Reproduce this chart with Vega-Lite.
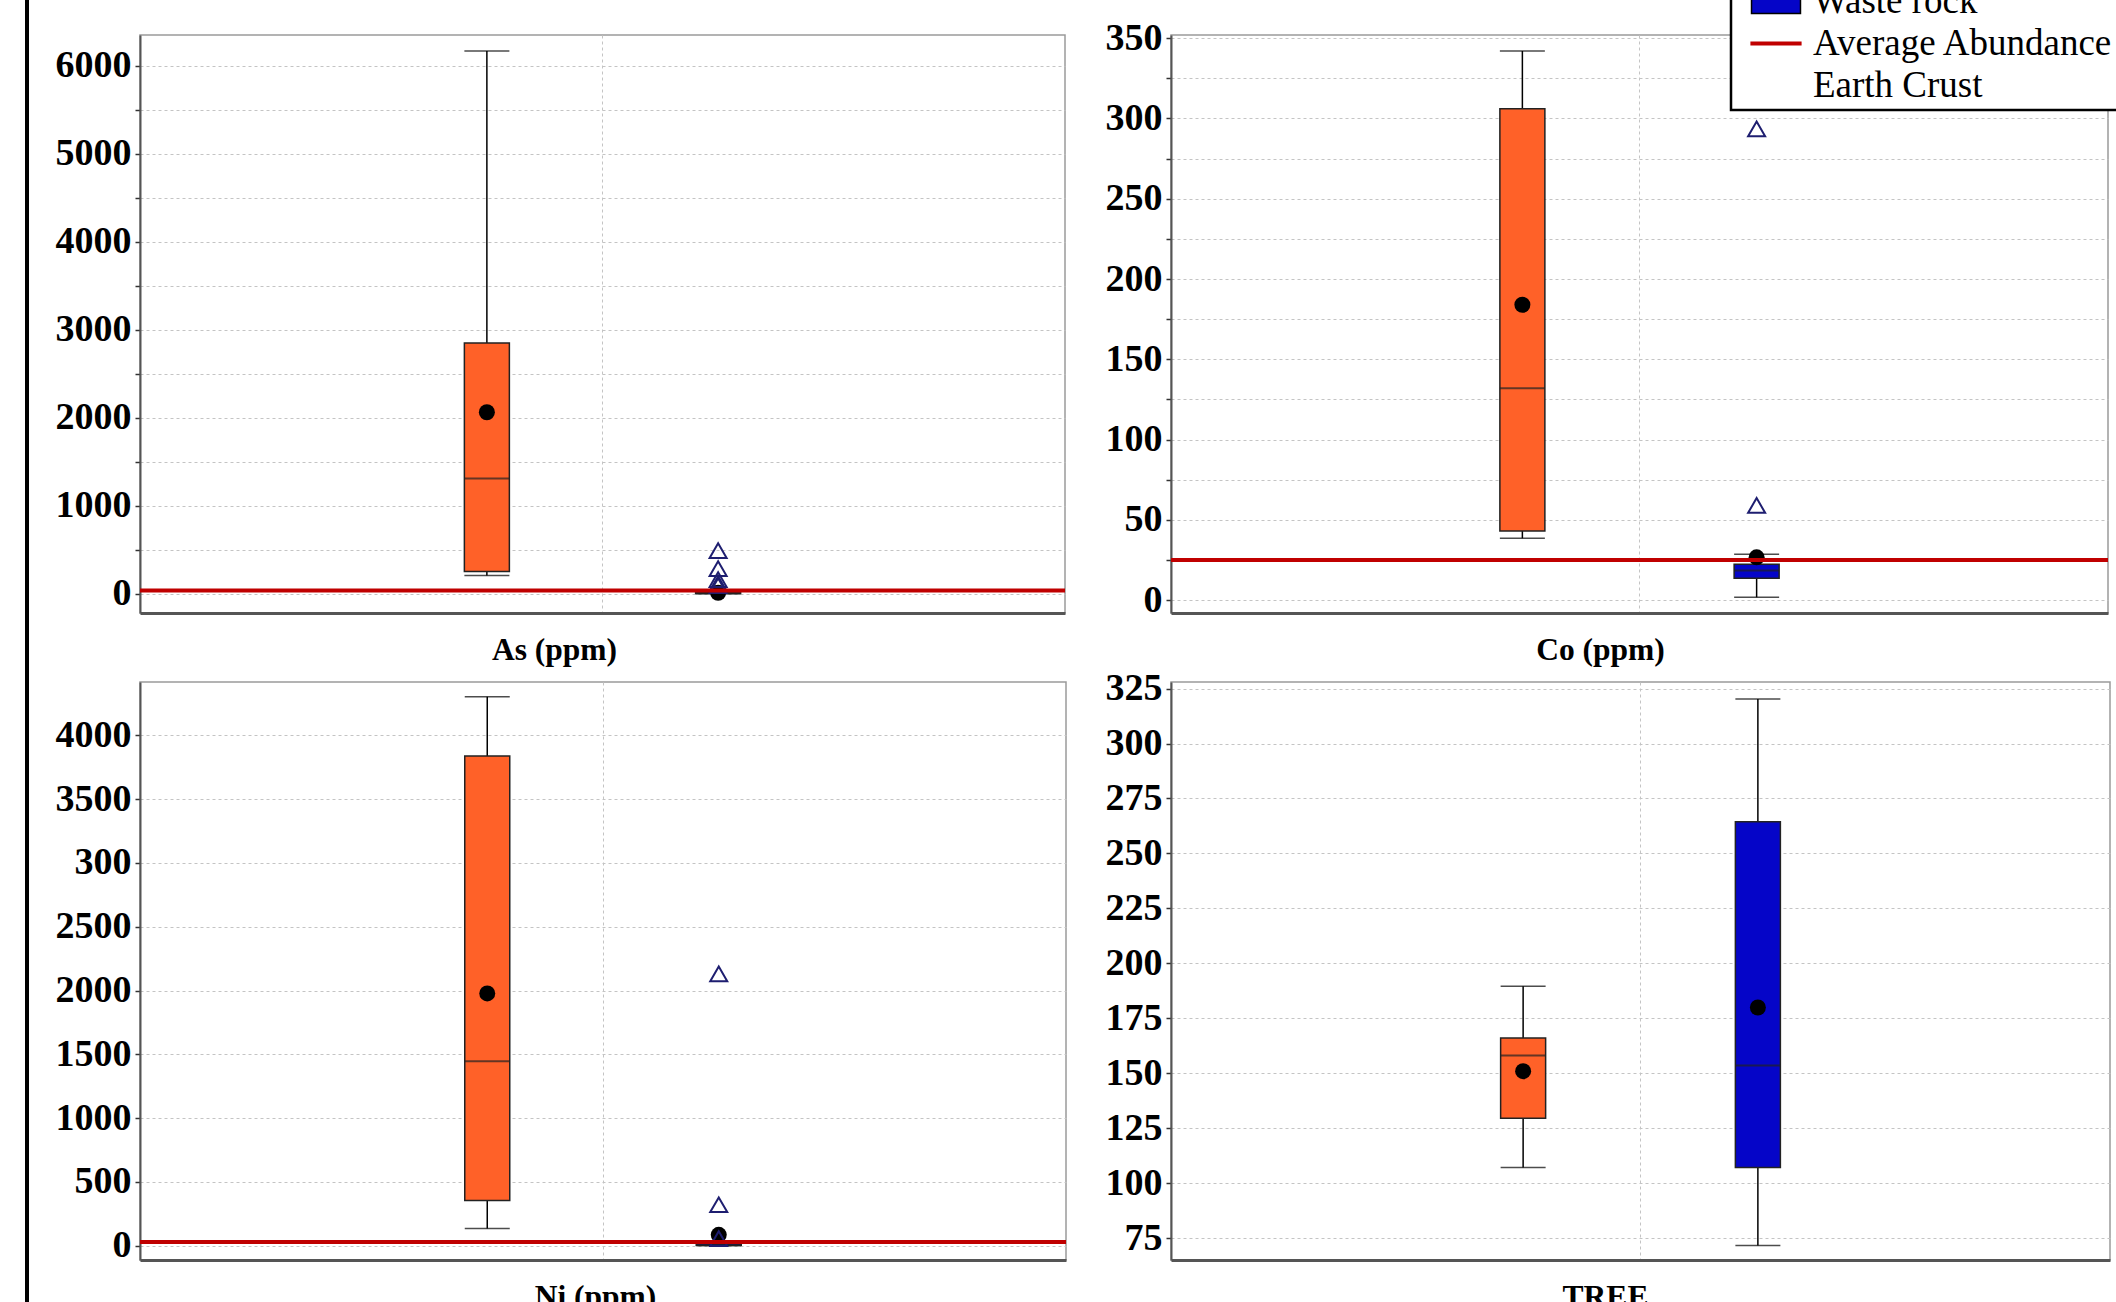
{
  "$schema": "https://vega.github.io/schema/vega-lite/v6.json",
  "autosize": {"type": "none"},
  "padding": {"left": 25, "top": 35, "right": 2091, "bottom": 1267},
  "background": "white",
  "datasets": {
    "stats": [
      {"panel": "As", "group": "Ore", "lo": 205, "q1": 252, "median": 1310, "q3": 2848, "hi": 6167, "mean": 2062},
      {"panel": "As", "group": "Waste rock", "lo": 0, "q1": 2, "median": 8, "q3": 18, "hi": 30, "mean": 10},
      {"panel": "Co", "group": "Ore", "lo": 38.5, "q1": 43, "median": 132, "q3": 306, "hi": 342, "mean": 184},
      {"panel": "Co", "group": "Waste rock", "lo": 1.8, "q1": 13.6, "median": 18.4, "q3": 22.3, "hi": 28.6, "mean": 26.7},
      {"panel": "Ni", "group": "Ore", "lo": 135, "q1": 355, "median": 1445, "q3": 3839, "hi": 4303, "mean": 1977},
      {"panel": "Ni", "group": "Waste rock", "lo": 0, "q1": 3, "median": 10, "q3": 20, "hi": 35, "mean": 85},
      {"panel": "TREE", "group": "Ore", "lo": 107.1, "q1": 129.5, "median": 158, "q3": 166, "hi": 189.6, "mean": 150.9},
      {"panel": "TREE", "group": "Waste rock", "lo": 71.6, "q1": 107.1, "median": 153.5, "q3": 264.4, "hi": 320.3, "mean": 179.9}
    ],
    "outliers": [
      {"panel": "As", "group": "Waste rock", "value": 490},
      {"panel": "As", "group": "Waste rock", "value": 285},
      {"panel": "As", "group": "Waste rock", "value": 160},
      {"panel": "As", "group": "Waste rock", "value": 115},
      {"panel": "As", "group": "Waste rock", "value": 90},
      {"panel": "Co", "group": "Waste rock", "value": 293.6},
      {"panel": "Co", "group": "Waste rock", "value": 59},
      {"panel": "Ni", "group": "Waste rock", "value": 2130},
      {"panel": "Ni", "group": "Waste rock", "value": 321},
      {"panel": "Ni", "group": "Waste rock", "value": 55}
    ],
    "crust": [
      {"panel": "As", "value": 35},
      {"panel": "Co", "value": 25},
      {"panel": "Ni", "value": 30}
    ],
    "frame": [{"edge": "left"}]
  },
  "bounds": "flush",
  "columns": 3,
  "spacing": {"row": 69, "column": 105},
  "concat": [
    {
      "width": 10, "height": 578,
      "view": {"stroke": null},
      "data": {"name": "frame"},
      "mark": {"type": "rule", "color": "black", "strokeWidth": 4, "clip": false},
      "encoding": {
        "x": {"datum": 0.2, "type": "quantitative", "scale": {"domain": [0, 1]}, "axis": null},
        "y": {"datum": -0.25, "type": "quantitative", "scale": {"domain": [0, 1]}, "axis": null},
        "y2": {"datum": 1.25}
      }
    },
    {
      "width": 925, "height": 578,
      "layer": [
        {"data": {"name": "stats"}, "transform": [{"filter": "datum.panel === 'As'"}],
         "mark": {"type": "rule", "color": "black", "strokeWidth": 1.5},
         "encoding": {
           "x": {"field": "group", "type": "nominal", "scale": {"domain": ["Ore", "Waste rock"], "paddingInner": 0, "paddingOuter": 1}, "axis": {"title": "As (ppm)", "values": ["Waste rock"], "bandPosition": 0, "labels": false, "ticks": false, "grid": true, "titleX": 414}},
           "y": {"field": "lo", "type": "quantitative", "scale": {"domain": [-220, 6350], "nice": false, "zero": false}, "axis": {"title": null, "values": [0, 500, 1000, 1500, 2000, 2500, 3000, 3500, 4000, 4500, 5000, 5500, 6000], "format": "d", "labelExpr": "datum.value % 1000 === 0 ? datum.label : ''", "labelOverlap": false}},
           "y2": {"field": "hi"}
         }},
        {"data": {"name": "stats"}, "transform": [{"filter": "datum.panel === 'As'"}],
         "mark": {"type": "tick", "color": "black", "thickness": 1.5, "size": 45},
         "encoding": {
           "x": {"field": "group", "type": "nominal", "scale": {"domain": ["Ore", "Waste rock"], "paddingInner": 0, "paddingOuter": 1}},
           "y": {"field": "lo", "type": "quantitative", "scale": {"domain": [-220, 6350], "nice": false, "zero": false}}
         }},
        {"data": {"name": "stats"}, "transform": [{"filter": "datum.panel === 'As'"}],
         "mark": {"type": "tick", "color": "black", "thickness": 1.5, "size": 45},
         "encoding": {
           "x": {"field": "group", "type": "nominal", "scale": {"domain": ["Ore", "Waste rock"], "paddingInner": 0, "paddingOuter": 1}},
           "y": {"field": "hi", "type": "quantitative", "scale": {"domain": [-220, 6350], "nice": false, "zero": false}}
         }},
        {"data": {"name": "stats"}, "transform": [{"filter": "datum.panel === 'As'"}],
         "mark": {"type": "bar", "size": 45, "stroke": "#222222", "strokeWidth": 1.5},
         "encoding": {
           "x": {"field": "group", "type": "nominal", "scale": {"domain": ["Ore", "Waste rock"], "paddingInner": 0, "paddingOuter": 1}},
           "y": {"field": "q1", "type": "quantitative", "scale": {"domain": [-220, 6350], "nice": false, "zero": false}},
           "y2": {"field": "q3"},
           "fill": {"field": "group", "type": "nominal", "scale": {"domain": ["Ore", "Waste rock"], "range": ["#FF6128", "#0505C8"]},
             "legend": {"title": null, "symbolType": "M-1.53,-0.75H1.53V0.75H-1.53Z", "symbolStrokeColor": "black", "symbolStrokeWidth": 1.5, "symbolOpacity": 1, "labelExpr": "' '", "zindex": 2}}
         }},
        {"data": {"name": "stats"}, "transform": [{"filter": "datum.panel === 'As'"}],
         "mark": {"type": "tick", "color": "#222222", "thickness": 2, "size": 45},
         "encoding": {
           "x": {"field": "group", "type": "nominal", "scale": {"domain": ["Ore", "Waste rock"], "paddingInner": 0, "paddingOuter": 1}},
           "y": {"field": "median", "type": "quantitative", "scale": {"domain": [-220, 6350], "nice": false, "zero": false}}
         }},
        {"data": {"name": "stats"}, "transform": [{"filter": "datum.panel === 'As'"}],
         "mark": {"type": "point", "shape": "circle", "filled": true, "color": "black", "size": 256, "opacity": 1},
         "encoding": {
           "x": {"field": "group", "type": "nominal", "scale": {"domain": ["Ore", "Waste rock"], "paddingInner": 0, "paddingOuter": 1}},
           "y": {"field": "mean", "type": "quantitative", "scale": {"domain": [-220, 6350], "nice": false, "zero": false}}
         }},
        {"data": {"name": "outliers"}, "transform": [{"filter": "datum.panel === 'As'"}],
         "mark": {"type": "point", "shape": "triangle-up", "filled": false, "color": "#1e1e70", "strokeWidth": 2, "size": 289, "opacity": 1},
         "encoding": {
           "x": {"field": "group", "type": "nominal", "scale": {"domain": ["Ore", "Waste rock"], "paddingInner": 0, "paddingOuter": 1}},
           "y": {"field": "value", "type": "quantitative", "scale": {"domain": [-220, 6350], "nice": false, "zero": false}}
         }},
        {"data": {"name": "crust"}, "transform": [{"filter": "datum.panel === 'As'"}],
         "mark": {"type": "rule", "strokeWidth": 4},
         "encoding": {
           "y": {"field": "value", "type": "quantitative", "scale": {"domain": [-220, 6350], "nice": false, "zero": false}},
           "stroke": {"datum": "Average Abundance", "scale": {"domain": ["Ore", "Waste rock", "Average Abundance", "Earth Crust"], "range": ["transparent", "transparent", "#C00000", "transparent"]},
             "legend": {"title": null, "symbolType": "M-1.6,0H1.6", "symbolStrokeWidth": 4, "symbolOpacity": 1, "strokeColor": "black", "fillColor": "white", "zindex": 1}}
         }}
      ]
    },
    {
      "width": 937, "height": 578,
      "layer": [
        {"data": {"name": "stats"}, "transform": [{"filter": "datum.panel === 'Co'"}],
         "mark": {"type": "rule", "color": "black", "strokeWidth": 1.5},
         "encoding": {
           "x": {"field": "group", "type": "nominal", "scale": {"domain": ["Ore", "Waste rock"], "paddingInner": 0, "paddingOuter": 1}, "axis": {"title": "Co (ppm)", "values": ["Waste rock"], "bandPosition": 0, "labels": false, "ticks": false, "grid": true, "titleX": 429}},
           "y": {"field": "lo", "type": "quantitative", "scale": {"domain": [-8, 352], "nice": false, "zero": false}, "axis": {"title": null, "values": [0, 25, 50, 75, 100, 125, 150, 175, 200, 225, 250, 275, 300, 325, 350], "format": "d", "labelExpr": "datum.value % 50 === 0 ? datum.label : ''", "labelOverlap": false}},
           "y2": {"field": "hi"}
         }},
        {"data": {"name": "stats"}, "transform": [{"filter": "datum.panel === 'Co'"}],
         "mark": {"type": "tick", "color": "black", "thickness": 1.5, "size": 45},
         "encoding": {
           "x": {"field": "group", "type": "nominal", "scale": {"domain": ["Ore", "Waste rock"], "paddingInner": 0, "paddingOuter": 1}},
           "y": {"field": "lo", "type": "quantitative", "scale": {"domain": [-8, 352], "nice": false, "zero": false}}
         }},
        {"data": {"name": "stats"}, "transform": [{"filter": "datum.panel === 'Co'"}],
         "mark": {"type": "tick", "color": "black", "thickness": 1.5, "size": 45},
         "encoding": {
           "x": {"field": "group", "type": "nominal", "scale": {"domain": ["Ore", "Waste rock"], "paddingInner": 0, "paddingOuter": 1}},
           "y": {"field": "hi", "type": "quantitative", "scale": {"domain": [-8, 352], "nice": false, "zero": false}}
         }},
        {"data": {"name": "stats"}, "transform": [{"filter": "datum.panel === 'Co'"}],
         "mark": {"type": "bar", "size": 45, "stroke": "#222222", "strokeWidth": 1.5},
         "encoding": {
           "x": {"field": "group", "type": "nominal", "scale": {"domain": ["Ore", "Waste rock"], "paddingInner": 0, "paddingOuter": 1}},
           "y": {"field": "q1", "type": "quantitative", "scale": {"domain": [-8, 352], "nice": false, "zero": false}},
           "y2": {"field": "q3"},
           "fill": {"field": "group", "type": "nominal", "scale": {"domain": ["Ore", "Waste rock"], "range": ["#FF6128", "#0505C8"]},
             "legend": {"title": null, "symbolType": "M-1.53,-0.75H1.53V0.75H-1.53Z", "symbolStrokeColor": "black", "symbolStrokeWidth": 1.5, "symbolOpacity": 1, "labelExpr": "' '", "zindex": 2}}
         }},
        {"data": {"name": "stats"}, "transform": [{"filter": "datum.panel === 'Co'"}],
         "mark": {"type": "tick", "color": "#222222", "thickness": 2, "size": 45},
         "encoding": {
           "x": {"field": "group", "type": "nominal", "scale": {"domain": ["Ore", "Waste rock"], "paddingInner": 0, "paddingOuter": 1}},
           "y": {"field": "median", "type": "quantitative", "scale": {"domain": [-8, 352], "nice": false, "zero": false}}
         }},
        {"data": {"name": "stats"}, "transform": [{"filter": "datum.panel === 'Co'"}],
         "mark": {"type": "point", "shape": "circle", "filled": true, "color": "black", "size": 256, "opacity": 1},
         "encoding": {
           "x": {"field": "group", "type": "nominal", "scale": {"domain": ["Ore", "Waste rock"], "paddingInner": 0, "paddingOuter": 1}},
           "y": {"field": "mean", "type": "quantitative", "scale": {"domain": [-8, 352], "nice": false, "zero": false}}
         }},
        {"data": {"name": "outliers"}, "transform": [{"filter": "datum.panel === 'Co'"}],
         "mark": {"type": "point", "shape": "triangle-up", "filled": false, "color": "#1e1e70", "strokeWidth": 2, "size": 289, "opacity": 1},
         "encoding": {
           "x": {"field": "group", "type": "nominal", "scale": {"domain": ["Ore", "Waste rock"], "paddingInner": 0, "paddingOuter": 1}},
           "y": {"field": "value", "type": "quantitative", "scale": {"domain": [-8, 352], "nice": false, "zero": false}}
         }},
        {"data": {"name": "crust"}, "transform": [{"filter": "datum.panel === 'Co'"}],
         "mark": {"type": "rule", "strokeWidth": 4},
         "encoding": {
           "y": {"field": "value", "type": "quantitative", "scale": {"domain": [-8, 352], "nice": false, "zero": false}},
           "stroke": {"datum": "Average Abundance", "scale": {"domain": ["Ore", "Waste rock", "Average Abundance", "Earth Crust"], "range": ["transparent", "transparent", "#C00000", "transparent"]},
             "legend": {"title": null, "symbolType": "M-1.6,0H1.6", "symbolStrokeWidth": 4, "symbolOpacity": 1, "strokeColor": "black", "fillColor": "white", "zindex": 1}}
         }}
      ]
    },
    {
      "width": 10, "height": 578,
      "view": {"stroke": null},
      "data": {"name": "frame"},
      "mark": {"type": "rule", "color": "black", "strokeWidth": 4, "clip": false},
      "encoding": {
        "x": {"datum": 0.2, "type": "quantitative", "scale": {"domain": [0, 1]}, "axis": null},
        "y": {"datum": -0.25, "type": "quantitative", "scale": {"domain": [0, 1]}, "axis": null},
        "y2": {"datum": 1.25}
      }
    },
    {
      "width": 926, "height": 578,
      "layer": [
        {"data": {"name": "stats"}, "transform": [{"filter": "datum.panel === 'Ni'"}],
         "mark": {"type": "rule", "color": "black", "strokeWidth": 1.5},
         "encoding": {
           "x": {"field": "group", "type": "nominal", "scale": {"domain": ["Ore", "Waste rock"], "paddingInner": 0, "paddingOuter": 1}, "axis": {"title": "Ni (ppm)", "values": ["Waste rock"], "bandPosition": 0, "labels": false, "ticks": false, "grid": true, "titleX": 455}},
           "y": {"field": "lo", "type": "quantitative", "scale": {"domain": [-112, 4418], "nice": false, "zero": false}, "axis": {"title": null, "values": [0, 250, 500, 750, 1000, 1250, 1500, 1750, 2000, 2250, 2500, 2750, 3000, 3250, 3500, 3750, 4000, 4250], "format": "d", "labelExpr": "datum.value === 3000 ? '300' : (datum.value % 500 === 0 ? datum.label : '')", "labelOverlap": false}},
           "y2": {"field": "hi"}
         }},
        {"data": {"name": "stats"}, "transform": [{"filter": "datum.panel === 'Ni'"}],
         "mark": {"type": "tick", "color": "black", "thickness": 1.5, "size": 45},
         "encoding": {
           "x": {"field": "group", "type": "nominal", "scale": {"domain": ["Ore", "Waste rock"], "paddingInner": 0, "paddingOuter": 1}},
           "y": {"field": "lo", "type": "quantitative", "scale": {"domain": [-112, 4418], "nice": false, "zero": false}}
         }},
        {"data": {"name": "stats"}, "transform": [{"filter": "datum.panel === 'Ni'"}],
         "mark": {"type": "tick", "color": "black", "thickness": 1.5, "size": 45},
         "encoding": {
           "x": {"field": "group", "type": "nominal", "scale": {"domain": ["Ore", "Waste rock"], "paddingInner": 0, "paddingOuter": 1}},
           "y": {"field": "hi", "type": "quantitative", "scale": {"domain": [-112, 4418], "nice": false, "zero": false}}
         }},
        {"data": {"name": "stats"}, "transform": [{"filter": "datum.panel === 'Ni'"}],
         "mark": {"type": "bar", "size": 45, "stroke": "#222222", "strokeWidth": 1.5},
         "encoding": {
           "x": {"field": "group", "type": "nominal", "scale": {"domain": ["Ore", "Waste rock"], "paddingInner": 0, "paddingOuter": 1}},
           "y": {"field": "q1", "type": "quantitative", "scale": {"domain": [-112, 4418], "nice": false, "zero": false}},
           "y2": {"field": "q3"},
           "fill": {"field": "group", "type": "nominal", "scale": {"domain": ["Ore", "Waste rock"], "range": ["#FF6128", "#0505C8"]},
             "legend": {"title": null, "symbolType": "M-1.53,-0.75H1.53V0.75H-1.53Z", "symbolStrokeColor": "black", "symbolStrokeWidth": 1.5, "symbolOpacity": 1, "labelExpr": "' '", "zindex": 2}}
         }},
        {"data": {"name": "stats"}, "transform": [{"filter": "datum.panel === 'Ni'"}],
         "mark": {"type": "tick", "color": "#222222", "thickness": 2, "size": 45},
         "encoding": {
           "x": {"field": "group", "type": "nominal", "scale": {"domain": ["Ore", "Waste rock"], "paddingInner": 0, "paddingOuter": 1}},
           "y": {"field": "median", "type": "quantitative", "scale": {"domain": [-112, 4418], "nice": false, "zero": false}}
         }},
        {"data": {"name": "stats"}, "transform": [{"filter": "datum.panel === 'Ni'"}],
         "mark": {"type": "point", "shape": "circle", "filled": true, "color": "black", "size": 256, "opacity": 1},
         "encoding": {
           "x": {"field": "group", "type": "nominal", "scale": {"domain": ["Ore", "Waste rock"], "paddingInner": 0, "paddingOuter": 1}},
           "y": {"field": "mean", "type": "quantitative", "scale": {"domain": [-112, 4418], "nice": false, "zero": false}}
         }},
        {"data": {"name": "outliers"}, "transform": [{"filter": "datum.panel === 'Ni'"}],
         "mark": {"type": "point", "shape": "triangle-up", "filled": false, "color": "#1e1e70", "strokeWidth": 2, "size": 289, "opacity": 1},
         "encoding": {
           "x": {"field": "group", "type": "nominal", "scale": {"domain": ["Ore", "Waste rock"], "paddingInner": 0, "paddingOuter": 1}},
           "y": {"field": "value", "type": "quantitative", "scale": {"domain": [-112, 4418], "nice": false, "zero": false}}
         }},
        {"data": {"name": "crust"}, "transform": [{"filter": "datum.panel === 'Ni'"}],
         "mark": {"type": "rule", "strokeWidth": 4},
         "encoding": {
           "y": {"field": "value", "type": "quantitative", "scale": {"domain": [-112, 4418], "nice": false, "zero": false}},
           "stroke": {"datum": "Average Abundance", "scale": {"domain": ["Ore", "Waste rock", "Average Abundance", "Earth Crust"], "range": ["transparent", "transparent", "#C00000", "transparent"]},
             "legend": {"title": null, "symbolType": "M-1.6,0H1.6", "symbolStrokeWidth": 4, "symbolOpacity": 1, "strokeColor": "black", "fillColor": "white", "zindex": 1}}
         }}
      ]
    },
    {
      "width": 939, "height": 578,
      "layer": [
        {"data": {"name": "stats"}, "transform": [{"filter": "datum.panel === 'TREE'"}],
         "mark": {"type": "rule", "color": "black", "strokeWidth": 1.5},
         "encoding": {
           "x": {"field": "group", "type": "nominal", "scale": {"domain": ["Ore", "Waste rock"], "paddingInner": 0, "paddingOuter": 1}, "axis": {"title": "TREE", "values": ["Waste rock"], "bandPosition": 0, "labels": false, "ticks": false, "grid": true, "titleX": 434}},
           "y": {"field": "lo", "type": "quantitative", "scale": {"domain": [65, 328], "nice": false, "zero": false}, "axis": {"title": null, "values": [75, 100, 125, 150, 175, 200, 225, 250, 275, 300, 325], "format": "d", "labelOverlap": false}},
           "y2": {"field": "hi"}
         }},
        {"data": {"name": "stats"}, "transform": [{"filter": "datum.panel === 'TREE'"}],
         "mark": {"type": "tick", "color": "black", "thickness": 1.5, "size": 45},
         "encoding": {
           "x": {"field": "group", "type": "nominal", "scale": {"domain": ["Ore", "Waste rock"], "paddingInner": 0, "paddingOuter": 1}},
           "y": {"field": "lo", "type": "quantitative", "scale": {"domain": [65, 328], "nice": false, "zero": false}}
         }},
        {"data": {"name": "stats"}, "transform": [{"filter": "datum.panel === 'TREE'"}],
         "mark": {"type": "tick", "color": "black", "thickness": 1.5, "size": 45},
         "encoding": {
           "x": {"field": "group", "type": "nominal", "scale": {"domain": ["Ore", "Waste rock"], "paddingInner": 0, "paddingOuter": 1}},
           "y": {"field": "hi", "type": "quantitative", "scale": {"domain": [65, 328], "nice": false, "zero": false}}
         }},
        {"data": {"name": "stats"}, "transform": [{"filter": "datum.panel === 'TREE'"}],
         "mark": {"type": "bar", "size": 45, "stroke": "#222222", "strokeWidth": 1.5},
         "encoding": {
           "x": {"field": "group", "type": "nominal", "scale": {"domain": ["Ore", "Waste rock"], "paddingInner": 0, "paddingOuter": 1}},
           "y": {"field": "q1", "type": "quantitative", "scale": {"domain": [65, 328], "nice": false, "zero": false}},
           "y2": {"field": "q3"},
           "fill": {"field": "group", "type": "nominal", "scale": {"domain": ["Ore", "Waste rock"], "range": ["#FF6128", "#0505C8"]},
             "legend": {"title": null, "symbolType": "M-1.53,-0.75H1.53V0.75H-1.53Z", "symbolStrokeColor": "black", "symbolStrokeWidth": 1.5, "symbolOpacity": 1, "labelExpr": "' '", "zindex": 2}}
         }},
        {"data": {"name": "stats"}, "transform": [{"filter": "datum.panel === 'TREE'"}],
         "mark": {"type": "tick", "color": "#222222", "thickness": 2, "size": 45},
         "encoding": {
           "x": {"field": "group", "type": "nominal", "scale": {"domain": ["Ore", "Waste rock"], "paddingInner": 0, "paddingOuter": 1}},
           "y": {"field": "median", "type": "quantitative", "scale": {"domain": [65, 328], "nice": false, "zero": false}}
         }},
        {"data": {"name": "stats"}, "transform": [{"filter": "datum.panel === 'TREE'"}],
         "mark": {"type": "point", "shape": "circle", "filled": true, "color": "black", "size": 256, "opacity": 1},
         "encoding": {
           "x": {"field": "group", "type": "nominal", "scale": {"domain": ["Ore", "Waste rock"], "paddingInner": 0, "paddingOuter": 1}},
           "y": {"field": "mean", "type": "quantitative", "scale": {"domain": [65, 328], "nice": false, "zero": false}}
         }}
      ]
    }
  ],
  "config": {
    "font": "Liberation Serif",
    "view": {"stroke": "#9a9a9a", "strokeWidth": 1.5},
    "axis": {
      "labelFont": "Liberation Serif", "labelFontWeight": "bold", "labelFontSize": 38, "labelColor": "black",
      "titleFont": "Liberation Serif", "titleFontWeight": "bold", "titleFontSize": 31.5, "titleColor": "black",
      "gridColor": "#c4c4c4", "gridDash": [3, 3], "gridWidth": 1,
      "domainColor": "#555555", "domainWidth": 2,
      "tickColor": "#333333", "tickSize": 5, "tickWidth": 1.5, "labelPadding": 4
    },
    "axisX": {"domainWidth": 3, "titlePadding": 21},
    "legend": {
      "orient": "none", "legendX": 1706, "legendY": -100, "direction": "vertical",
      "labelFont": "Liberation Serif", "labelFontSize": 37, "labelColor": "black", "labelFontWeight": "normal",
      "labelOffset": 18.5, "labelLimit": 600, "symbolSize": 1024, "symbolOffset": 20.5,
      "rowPadding": 4, "padding": 6, "strokeWidth": 2.5
    }
  }
}
